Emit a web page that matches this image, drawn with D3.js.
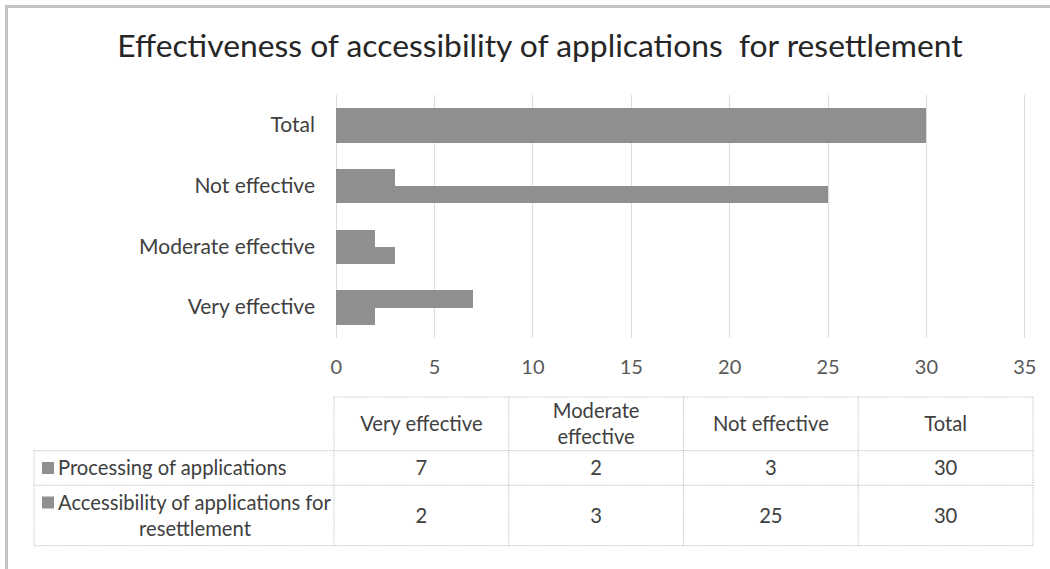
<!DOCTYPE html>
<html>
<head>
<meta charset="utf-8">
<script src="https://cdn.jsdelivr.net/npm/d3@7"></script>
<style>
  html, body { margin: 0; padding: 0; background: #fff; }
  svg { display: block; font-family: Lato, "Open Sans", sans-serif; }
</style>
</head>
<body>
<svg id="chart" width="1050" height="569"></svg>
<script>
// ---- data ----
const title = "Effectiveness of accessibility of applications  for resettlement";
const categories = ["Very effective", "Moderate effective", "Not effective", "Total"];
const seriesNames = ["Processing of applications", "Accessibility of applications for resettlement"];
const processing = [7, 2, 3, 30];
const accessibility = [2, 3, 25, 30];
const xTicks = [0, 5, 10, 15, 20, 25, 30, 35];
const headerLines = [["Very effective"], ["Moderate", "effective"], ["Not effective"], ["Total"]];
const rowLabelLines = [["Processing of applications"], ["Accessibility of applications for", "resettlement"]];

const series = [processing, accessibility];
const barColor = "#8f8f8f";
const textColor = "#404040";

const svg = d3.select("#chart");

// outer frame
svg.append("rect").attr("x", 6.5).attr("y", 6.5).attr("width", 1100).attr("height", 700)
  .attr("fill", "#fff").attr("stroke", "#c4c4c4").attr("stroke-width", 3);

// title
svg.append("text").attr("x", 540).attr("y", 57).attr("text-anchor", "middle")
  .style("white-space", "pre").attr("font-size", 31.8).attr("fill", "#262626")
  .text(title);

// scales
const plotTop = 95, plotBottom = 338;
const x = d3.scaleLinear().domain([0, 35]).range([335.7, 1024.3]);
const yOrder = categories.slice().reverse(); // Total at top
const y = d3.scaleBand().domain(yOrder).range([plotTop, plotBottom]).paddingInner(0.43).paddingOuter(0.215);
const ySub = d3.scaleBand().domain([0, 1]).range([0, y.bandwidth()]);

// gridlines
svg.append("g").selectAll("line").data(xTicks).join("line")
  .attr("x1", d => Math.round(x(d)) + 0.5).attr("x2", d => Math.round(x(d)) + 0.5)
  .attr("y1", plotTop).attr("y2", plotBottom)
  .attr("stroke", "#dcdcdc").attr("stroke-width", 1);

// bars
const barData = [];
categories.forEach((c, i) => series.forEach((s, j) => barData.push({ cat: c, s: j, v: s[i] })));
svg.append("g").attr("shape-rendering", "crispEdges").selectAll("rect").data(barData).join("rect")
  .attr("x", Math.round(x(0)))
  .attr("y", d => Math.round(y(d.cat) + ySub(d.s)))
  .attr("width", d => Math.round(x(d.v)) - Math.round(x(0)))
  .attr("height", d => Math.round(y(d.cat) + ySub(d.s) + ySub.bandwidth()) - Math.round(y(d.cat) + ySub(d.s)))
  .attr("fill", barColor);

// x axis labels
const xAxis = d3.axisBottom(x).tickValues(xTicks).tickSize(0).tickPadding(0);
const gx = svg.append("g").attr("transform", `translate(0,${plotBottom + 22})`).call(xAxis);
gx.select(".domain").remove();
gx.selectAll("text").attr("font-size", 20).attr("fill", "#595959")
  .attr("font-family", "Lato, 'Open Sans', sans-serif").attr("dy", "0.71em");

// y labels
const yAxis = d3.axisLeft(y).tickSize(0).tickPadding(0);
const gy = svg.append("g").attr("transform", `translate(315,0)`).call(yAxis);
gy.select(".domain").remove();
gy.selectAll("text").attr("font-size", 21).attr("fill", textColor)
  .attr("font-family", "Lato, 'Open Sans', sans-serif");

// data table
const tLeft = 34, tRight = 1033;
const colX = d3.scaleBand().domain(categories).range([334, tRight]);
const rowY = [397, 450.7, 485.3, 545.7];
const tg = svg.append("g");
const lineStyle = sel => sel.attr("stroke", "#c6c6c6").attr("stroke-width", 1).attr("stroke-dasharray", "1.5,1");
// horizontal lines
tg.append("line").attr("x1", 334).attr("x2", tRight).attr("y1", rowY[0]).attr("y2", rowY[0]).call(lineStyle);
rowY.slice(1).forEach(yy => tg.append("line").attr("x1", tLeft).attr("x2", tRight).attr("y1", yy).attr("y2", yy).call(lineStyle));
// vertical lines
tg.append("line").attr("x1", tLeft).attr("x2", tLeft).attr("y1", rowY[1]).attr("y2", rowY[3]).call(lineStyle);
categories.forEach(c => tg.append("line").attr("x1", colX(c)).attr("x2", colX(c)).attr("y1", rowY[0]).attr("y2", rowY[3]).call(lineStyle));
tg.append("line").attr("x1", tRight).attr("x2", tRight).attr("y1", rowY[0]).attr("y2", rowY[3]).call(lineStyle);

const fs = 20.2, lh = 26;
function multiLine(g, lines, cx, cy, anchor) {
  const n = lines.length;
  lines.forEach((ln, k) => {
    g.append("text").attr("x", cx).attr("y", cy + (k - (n - 1) / 2) * lh).attr("dy", "0.35em")
      .attr("text-anchor", anchor).attr("font-size", fs).attr("fill", textColor).text(ln);
  });
}
// headers
categories.forEach((c, i) => {
  multiLine(tg, headerLines[i], colX(c) + colX.bandwidth() / 2, (rowY[0] + rowY[1]) / 2, "middle");
});
// rows
series.forEach((s, j) => {
  const cy = (rowY[j + 1] + rowY[j + 2]) / 2;
  categories.forEach((c, i) => {
    tg.append("text").attr("x", colX(c) + colX.bandwidth() / 2).attr("y", cy).attr("dy", "0.35em")
      .attr("text-anchor", "middle").attr("font-size", fs).attr("fill", textColor).text(s[i]);
  });
  const lines = rowLabelLines[j];
  const n = lines.length;
  const firstY = cy - (n - 1) / 2 * lh;
  tg.append("rect").attr("x", 42).attr("y", firstY - 6).attr("width", 12).attr("height", 12).attr("fill", barColor);
  tg.append("text").attr("x", 58).attr("y", firstY).attr("dy", "0.35em").attr("font-size", fs).attr("fill", textColor).text(lines[0]);
  if (n > 1) {
    tg.append("text").attr("x", 195).attr("y", firstY + lh).attr("dy", "0.35em").attr("text-anchor", "middle")
      .attr("font-size", fs).attr("fill", textColor).text(lines[1]);
  }
});
</script>
</body>
</html>
